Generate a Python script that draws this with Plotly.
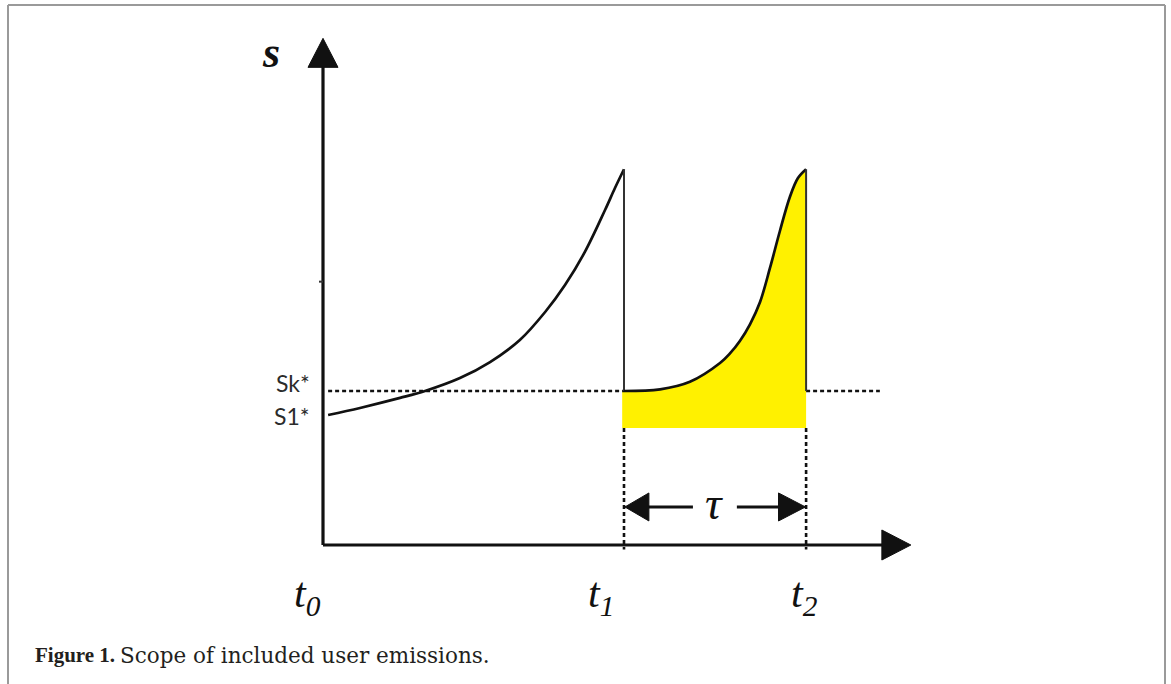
import plotly.graph_objects as go

# time positions of the marks on the t axis (t0 = origin)
t_names = ["t0", "t1", "t2"]
t_marks = [0.0, 1.0, 1.605]

# s levels
s_levels = ["Sk*", "S1*"]
s_values = [1.0, 0.844]
fill_base = 0.76
s_peak = 2.44

# first cycle: S1* at t0 rising to the peak at t1
curve1_t = [0.017, 0.123, 0.256, 0.339, 0.455, 0.555, 0.654, 0.738, 0.804, 0.870, 0.937, 0.970, 1.0]
curve1_s = [0.844, 0.890, 0.955, 1.0, 1.084, 1.188, 1.331, 1.513, 1.688, 1.903, 2.175, 2.318, 2.44]

# second cycle: Sk* at t1 rising to the peak at t2
curve2_t = [1.0, 1.120, 1.219, 1.319, 1.352, 1.385, 1.419, 1.452, 1.485, 1.518, 1.551, 1.578, 1.605]
curve2_s = [1.0, 1.011, 1.060, 1.182, 1.244, 1.325, 1.435, 1.578, 1.799, 2.039, 2.260, 2.383, 2.44]

# pixel scale of the plot (figure is 1171 x 684, no margins)
W, H = 1171, 684
X_RANGE = [-1.0731, 2.8173]
Y_RANGE = [-0.9026, 3.5390]
PX_T = W / (X_RANGE[1] - X_RANGE[0])
PX_S = H / (Y_RANGE[1] - Y_RANGE[0])

INK = "#111111"
YELLOW = "#FFF100"


def arrow_head(tip_t, tip_s, direction, length, half):
    # filled triangle, length/half in pixels
    lt, ls = length / PX_T, length / PX_S
    ht, hs = half / PX_T, half / PX_S
    if direction == "up":
        xs = [tip_t, tip_t - ht, tip_t + ht, tip_t]
        ys = [tip_s, tip_s - ls, tip_s - ls, tip_s]
    elif direction == "right":
        xs = [tip_t, tip_t - lt, tip_t - lt, tip_t]
        ys = [tip_s, tip_s + hs, tip_s - hs, tip_s]
    else:
        xs = [tip_t, tip_t + lt, tip_t + lt, tip_t]
        ys = [tip_s, tip_s + hs, tip_s - hs, tip_s]
    return go.Scatter(x=xs, y=ys, mode="lines", fill="toself", fillcolor=INK,
                      line=dict(color=INK, width=1), hoverinfo="skip")


def line(xs, ys, width=2.5, dash=None, color=INK, shape="linear"):
    return go.Scatter(x=xs, y=ys, mode="lines", hoverinfo="skip",
                      line=dict(color=color, width=width, dash=dash, shape=shape))


fig = go.Figure()

# yellow area under the second cycle
t1, t2 = t_marks[1], t_marks[2]
fig.add_trace(go.Scatter(x=[t1 - 0.006, t2], y=[fill_base, fill_base], mode="lines",
                         line=dict(width=0, color=YELLOW), hoverinfo="skip"))
fig.add_trace(go.Scatter(x=[t1 - 0.006] + curve2_t[1:], y=curve2_s, mode="lines", fill="tonexty",
                         fillcolor=YELLOW, line=dict(width=0, color=YELLOW, shape="spline"),
                         hoverinfo="skip"))

# dotted guides
dots = "4px,3px"
fig.add_trace(line([curve1_t[0], t1], [s_values[0]] * 2, 2.6, dots))
fig.add_trace(line([t2, 1.85], [s_values[0]] * 2, 2.6, dots))
fig.add_trace(line([t1, t1], [fill_base, -0.03], 2.6, dots))
fig.add_trace(line([t2, t2], [fill_base, -0.03], 2.6, dots))

# curves and drops
fig.add_trace(line(curve1_t, curve1_s, 2.7, shape="spline"))
fig.add_trace(line([t1, t1], [s_peak, s_values[0]], 2.0, color="#333333"))
fig.add_trace(line(curve2_t, curve2_s, 2.7, shape="spline"))
fig.add_trace(line([t2, t2], [s_peak, s_values[0]], 2.0, color="#333333"))

# axes with arrows
y_tip = 3.29
x_tip = 1.953
fig.add_trace(line([0, 0], [0, y_tip - 20 / PX_S], 3.2))
fig.add_trace(line([0, x_tip - 20 / PX_T], [0, 0], 3.2))
fig.add_trace(arrow_head(0, y_tip, "up", 29, 15))
fig.add_trace(arrow_head(x_tip, 0, "right", 29, 15))
# small tick on the s axis
fig.add_trace(line([-4 / PX_T, 0], [1.71, 1.71], 2.0, color="#333333"))

# tau span
tau_s = 0.247
fig.add_trace(line([t1 + 20 / PX_T, 1.229], [tau_s] * 2, 3.0))
fig.add_trace(line([1.375, t2 - 20 / PX_T], [tau_s] * 2, 3.0))
fig.add_trace(arrow_head(t1 + 0.003, tau_s, "left", 24, 14))
fig.add_trace(arrow_head(t2 - 0.002, tau_s, "right", 27, 14))

serif = "Liberation Serif"
ann = []
ann.append(dict(x=-0.173, y=3.195, text="<b><i>s</i></b>", font=dict(family=serif, size=44, color=INK)))
ann.append(dict(x=1.299, y=tau_s + 0.02, text="<i>τ</i>", font=dict(family=serif, size=46, color=INK)))
for name, s in zip(s_levels, s_values):
    ann.append(dict(x=-0.035, y=s + (0.05 if name == "Sk*" else -0.006), text=name, xanchor="right",
                    font=dict(family="Lato", size=23, color="#2b2b2b")))
label_t = [-0.05, 0.925, 1.6]
for name, t in zip(t_names, label_t):
    ann.append(dict(x=t, y=-0.33, text="<i>t</i><sub><i>%s</i></sub>" % name[1],
                    font=dict(family=serif, size=42, color=INK)))
for a in ann:
    a.setdefault("xanchor", "center")
    a.update(showarrow=False, yanchor="middle", xref="x", yref="y")
    fig.add_annotation(**a)

# caption
fig.add_annotation(x=33 / W, y=1 - 655 / H, xref="paper", yref="paper", xanchor="left", yanchor="middle",
                   showarrow=False, text="<b>Figure 1.</b>",
                   font=dict(family=serif, size=21, color="#231f20"))
fig.add_annotation(x=118 / W, y=1 - 655 / H, xref="paper", yref="paper", xanchor="left", yanchor="middle",
                   showarrow=False, text="Scope of included user emissions.",
                   font=dict(family="DejaVu Serif", size=21.5, color="#231f20"))

# frame around the figure (open at the bottom)
frame = dict(color="#9a9a9a", width=2)
fig.add_shape(type="line", xref="paper", yref="paper", x0=8 / W, x1=8 / W, y0=0, y1=1 - 5 / H, line=frame)
fig.add_shape(type="line", xref="paper", yref="paper", x0=8 / W, x1=1165 / W, y0=1 - 5 / H, y1=1 - 5 / H, line=frame)
fig.add_shape(type="line", xref="paper", yref="paper", x0=1165 / W, x1=1165 / W, y0=0, y1=1 - 5 / H, line=frame)

fig.update_layout(width=W, height=H, margin=dict(l=0, r=0, t=0, b=0), showlegend=False,
                  paper_bgcolor="white", plot_bgcolor="white")
fig.update_xaxes(range=X_RANGE, visible=False, fixedrange=True)
fig.update_yaxes(range=Y_RANGE, visible=False, fixedrange=True)

fig.write_html("out.html", config=dict(displayModeBar=False),
               post_script="document.body.style.margin='0';")
